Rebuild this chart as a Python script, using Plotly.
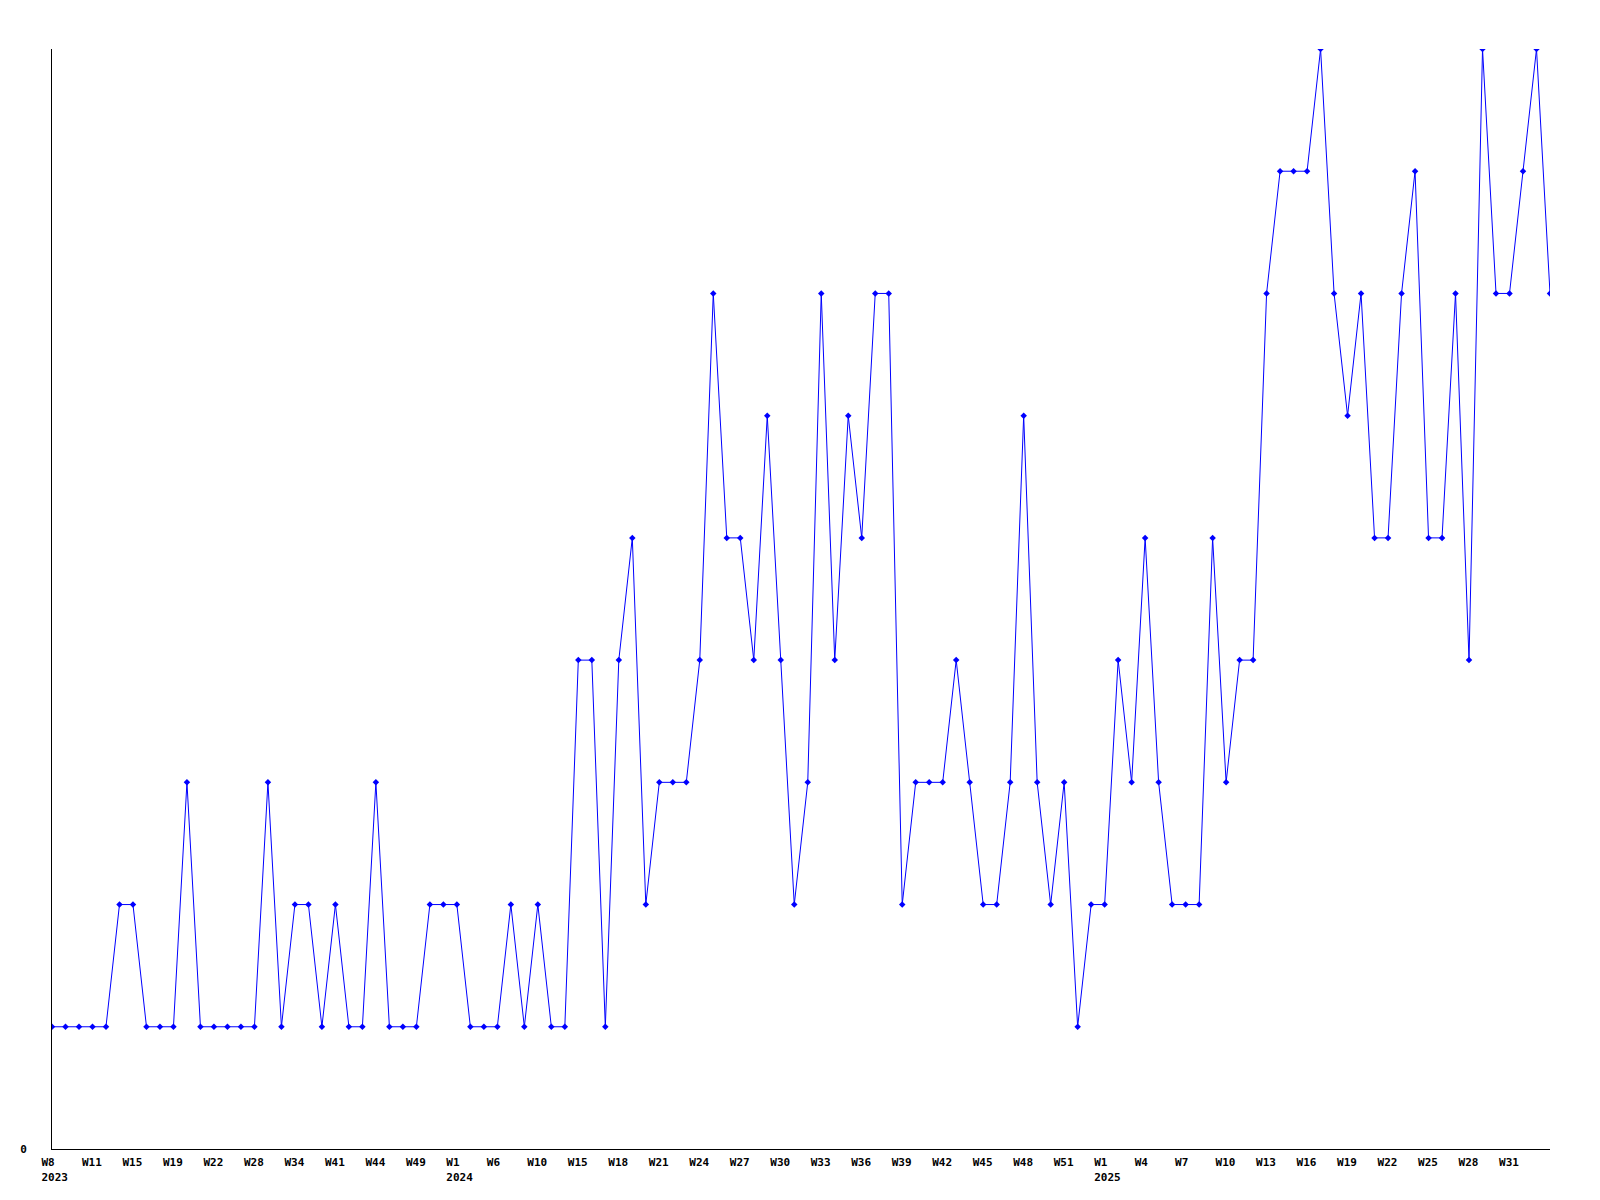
import plotly.graph_objects as go

# Series values (one per week category, in order)
values = [1, 1, 1, 1, 1, 2, 2, 1, 1, 1,
          3, 1, 1, 1, 1, 1, 3, 1, 2, 2,
          1, 2, 1, 1, 3, 1, 1, 1, 2, 2,
          2, 1, 1, 1, 2, 1, 2, 1, 1, 4,
          4, 1, 4, 5, 2, 3, 3, 3, 4, 7,
          5, 5, 4, 6, 4, 2, 3, 7, 4, 6,
          5, 7, 7, 2, 3, 3, 3, 4, 3, 2,
          2, 3, 6, 3, 2, 3, 1, 2, 2, 4,
          3, 5, 3, 2, 2, 2, 5, 3, 4, 4,
          7, 8, 8, 8, 9, 7, 6, 7, 5, 5,
          7, 8, 5, 5, 7, 4, 9, 7, 7, 8,
          9, 7]

# Tick labels shown every 3rd category
week_labels = ["W8", "W11", "W15", "W19", "W22", "W28", "W34", "W41", "W44", "W49",
               "W1", "W6", "W10", "W15", "W18", "W21", "W24", "W27", "W30", "W33",
               "W36", "W39", "W42", "W45", "W48", "W51",
               "W1", "W4", "W7", "W10", "W13", "W16", "W19", "W22", "W25", "W28", "W31"]
year_labels = {0: "2023", 10: "2024", 26: "2025"}
label_step = 3

x = list(range(len(values)))
tickvals = [i * label_step for i in range(len(week_labels))]
ticktext = [w + ("<br>" + year_labels[i] if i in year_labels else "") for i, w in enumerate(week_labels)]

fig = go.Figure()
fig.add_trace(go.Scatter(
    x=x, y=values, mode="lines+markers",
    line=dict(color="#0000FF", width=1),
    marker=dict(color="#0000FF", size=5, symbol="diamond"),
    showlegend=False, hoverinfo="skip",
))

tickfont = dict(family="DejaVu Sans Mono", size=11, color="black", weight="bold")
fig.update_layout(
    width=1600, height=1200,
    margin=dict(l=42, r=58, t=41, b=59),
    paper_bgcolor="white", plot_bgcolor="white",
    xaxis=dict(range=[0, len(values) - 1], tickvals=tickvals, ticktext=ticktext,
               showgrid=False, zeroline=False, showline=True, linecolor="black", linewidth=1,
               ticks="", tickfont=tickfont, tickangle=0, ticklabelstandoff=3,
               ticklabelposition="outside right", ticklabelshift=-11),
    yaxis=dict(range=[0, max(values)], tickvals=[0], ticktext=["0"],
               showgrid=False, zeroline=False, showline=True, linecolor="black", linewidth=1,
               ticks="", tickfont=tickfont, ticklabelstandoff=22),
)

fig.write_html("out.html")
